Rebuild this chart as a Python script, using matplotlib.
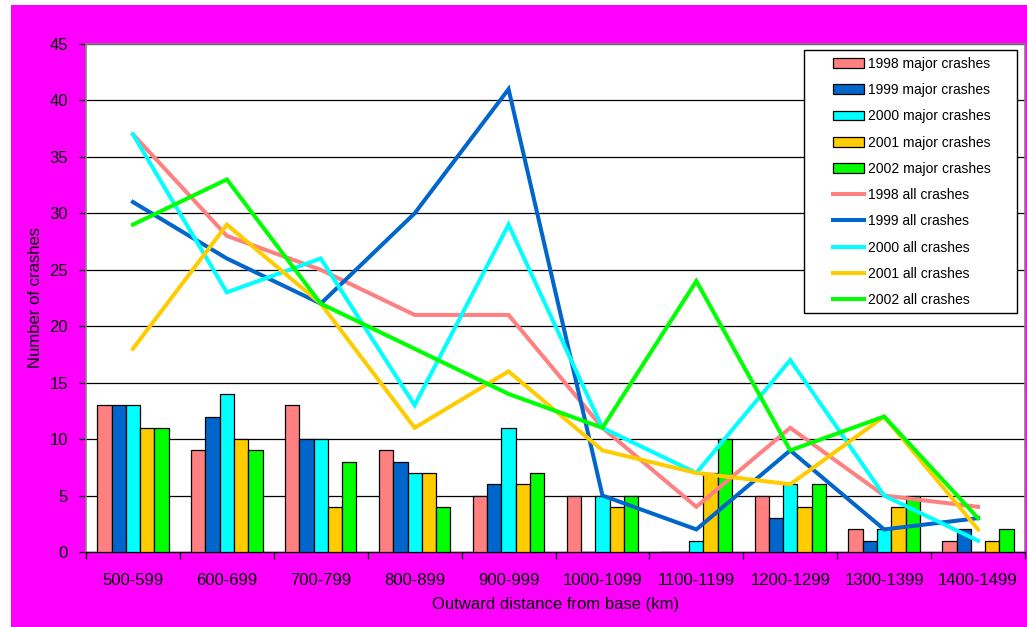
import numpy as np
import matplotlib.pyplot as plt
from matplotlib.patches import Rectangle
from matplotlib.lines import Line2D

plt.rcParams['font.family'] = ['Liberation Sans', 'DejaVu Sans']

distances = ['500-599', '600-699', '700-799', '800-899', '900-999',
             '1000-1099', '1100-1199', '1200-1299', '1300-1399', '1400-1499']
years = ['1998', '1999', '2000', '2001', '2002']
colors = ['#FF8080', '#0066CC', '#00FFFF', '#FFCC00', '#00FF00']

# major crashes (bars)
major_1998 = [13, 9, 13, 9, 5, 5, 0, 5, 2, 1]
major_1999 = [13, 12, 10, 8, 6, 0, 0, 3, 1, 2]
major_2000 = [13, 14, 10, 7, 11, 5, 1, 6, 2, 0]
major_2001 = [11, 10, 4, 7, 6, 4, 7, 4, 4, 1]
major_2002 = [11, 9, 8, 4, 7, 5, 10, 6, 5, 2]

# all crashes (lines)
all_1998 = [37, 28, 25, 21, 21, 11, 4, 11, 5, 4]
all_1999 = [31, 26, 22, 30, 41, 5, 2, 9, 2, 3]
all_2000 = [37, 23, 26, 13, 29, 11, 7, 17, 5, 1]
all_2001 = [18, 29, 22, 11, 16, 9, 7, 6, 12, 2]
all_2002 = [29, 33, 22, 18, 14, 11, 24, 9, 12, 3]

majors = [major_1998, major_1999, major_2000, major_2001, major_2002]
alls = [all_1998, all_1999, all_2000, all_2001, all_2002]

W, H = 1027, 627
fig = plt.figure(figsize=(W / 100, H / 100), dpi=100, facecolor='white')
fig.patches.append(Rectangle((11 / W, 0), 1 - 11 / W, 1 - 5 / H,
                             transform=fig.transFigure, facecolor='#FF00FF',
                             edgecolor='none', zorder=-10))

ax = fig.add_axes([86 / W, 1 - 552 / H, (1025 - 86) / W, (552 - 44) / H])
ax.set_facecolor('white')

x = np.arange(len(distances))
bw = 0.152
for i in range(5):
    ax.bar(x + (i - 2) * bw, majors[i], width=bw, color=colors[i],
           edgecolor='black', linewidth=0.9, zorder=3)
for i in range(5):
    ax.plot(x, alls[i], color=colors[i], linewidth=2.9, zorder=4,
            solid_joinstyle='miter')

ax.set_xlim(-0.5, 9.5)
ax.set_ylim(0, 45)
ax.set_yticks(np.arange(0, 46, 5))
ax.yaxis.grid(True, color='black', linewidth=0.9, zorder=0)
ax.set_axisbelow(True)

ax.set_xticks(x)
ax.set_xticklabels(distances, fontsize=12)
ax.set_xticks(np.arange(-0.5, 10, 1), minor=True)
ax.tick_params(axis='x', which='major', length=0, pad=15)
ax.tick_params(axis='x', which='minor', length=5, width=0.9, direction='out')
ax.tick_params(axis='y', length=5, width=0.9, direction='out', labelsize=12, pad=8)

for s in ['left', 'top', 'right']:
    ax.spines[s].set_color('#808080')
    ax.spines[s].set_linewidth(1.2)
ax.spines['bottom'].set_color('black')
ax.spines['bottom'].set_linewidth(1.0)

ax.set_xlabel('Outward distance from base (km)', fontsize=12)
ax.xaxis.set_label_coords(0.5, -0.088)
ax.set_ylabel('Number of crashes', fontsize=12)
ax.yaxis.set_label_coords(-0.046, 0.5)

# legend frame
fx0, fx1 = (804 - 86) / 939, (1017 - 86) / 939
fy0, fy1 = (552 - 313) / 508, (552 - 50) / 508
ax.add_patch(Rectangle((fx0, fy0), fx1 - fx0, fy1 - fy0, transform=ax.transAxes,
                       facecolor='white', edgecolor='black', linewidth=1.0,
                       zorder=6, clip_on=False))

handles = [Rectangle((0, 0), 1, 1, facecolor=colors[i], edgecolor='black',
                     linewidth=0.9) for i in range(5)]
handles += [Line2D([0], [0], color=colors[i], linewidth=2.9) for i in range(5)]
labels = [y + ' major crashes' for y in years] + [y + ' all crashes' for y in years]
leg = ax.legend(handles, labels, loc='upper left',
                bbox_to_anchor=((833 - 86) / 939, (552 - 57) / 508),
                frameon=False, fontsize=10, borderpad=0, borderaxespad=0,
                handlelength=2.2, handletextpad=0.3, labelspacing=0.88)
leg.set_zorder(7)

fig.savefig('out.png', dpi=100, facecolor=fig.get_facecolor())
